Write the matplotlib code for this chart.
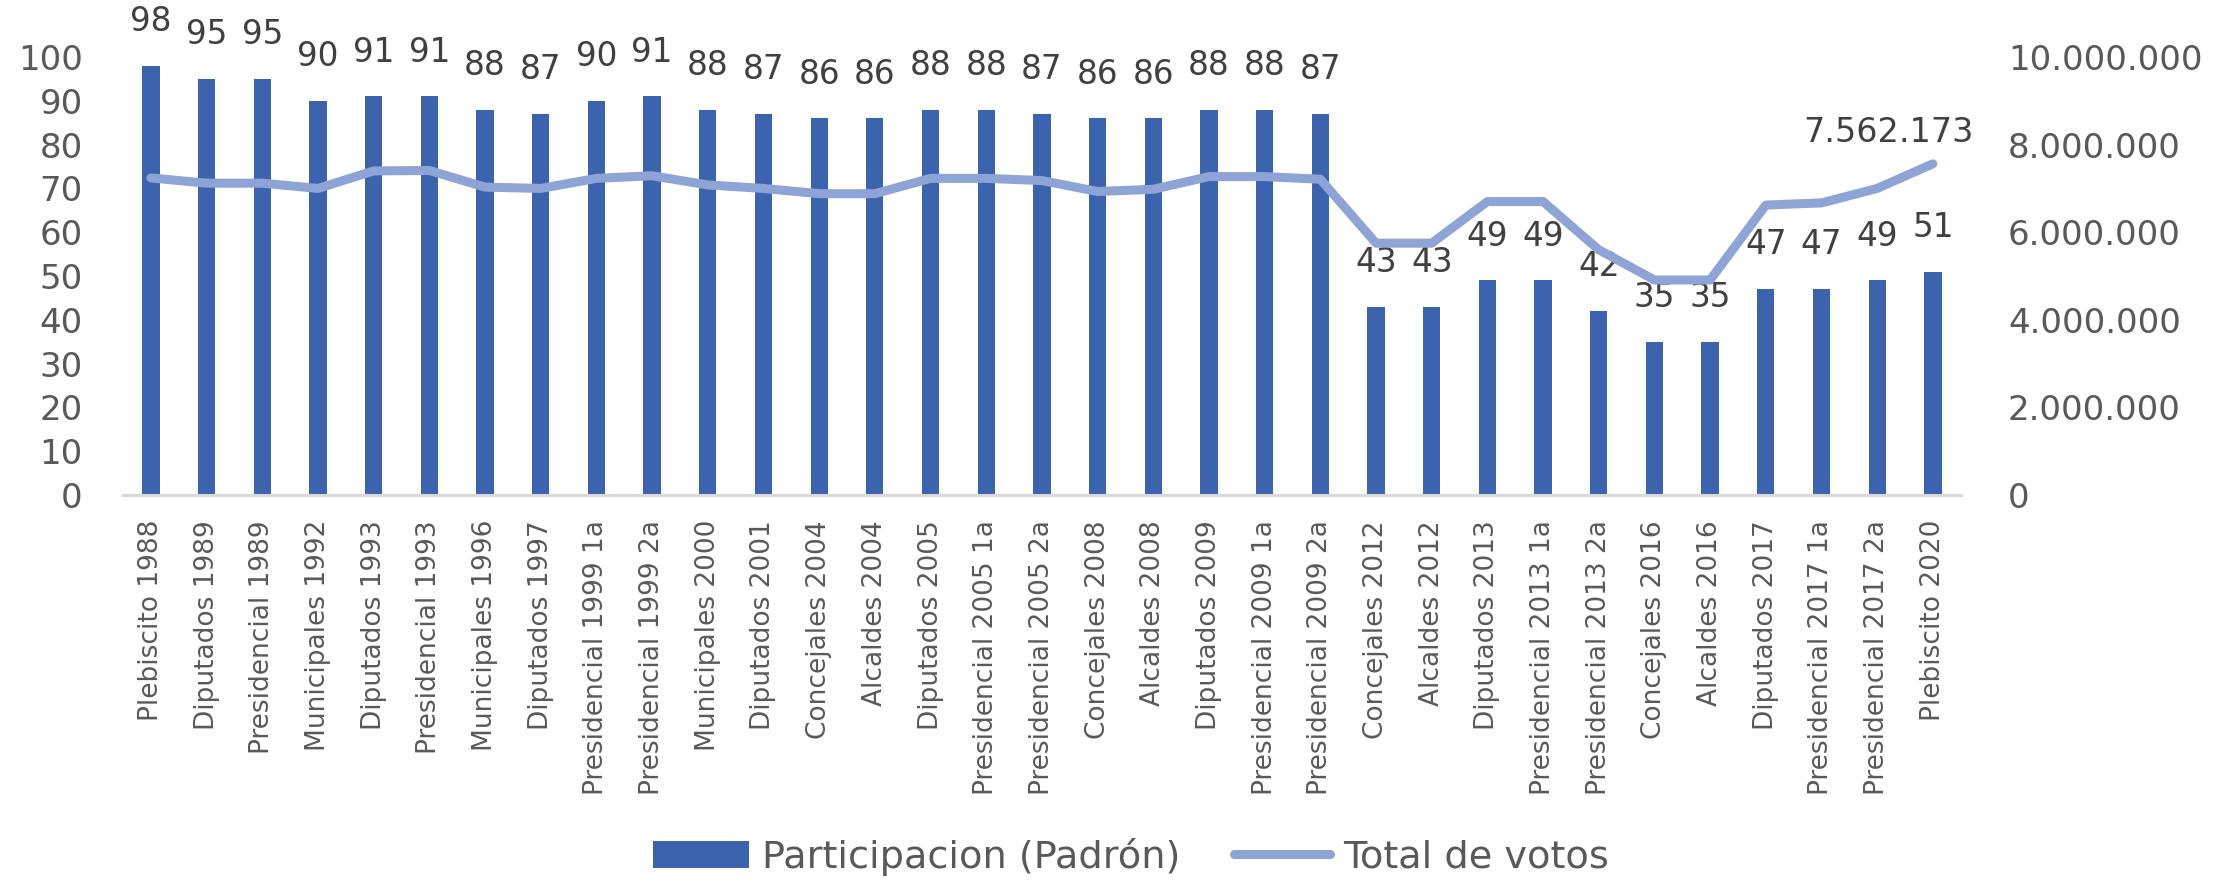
import matplotlib.pyplot as plt
from matplotlib.ticker import FuncFormatter

# -----------------------------
# Datos
# -----------------------------
elecciones = ["Plebiscito 1988", "Diputados 1989", "Presidencial 1989", "Municipales 1992",
              "Diputados 1993", "Presidencial 1993", "Municipales 1996", "Diputados 1997",
              "Presidencial 1999 1a", "Presidencial 1999 2a", "Municipales 2000", "Diputados 2001",
              "Concejales 2004", "Alcaldes 2004", "Diputados 2005", "Presidencial 2005 1a",
              "Presidencial 2005 2a", "Concejales 2008", "Alcaldes 2008", "Diputados 2009",
              "Presidencial 2009 1a", "Presidencial 2009 2a", "Concejales 2012", "Alcaldes 2012",
              "Diputados 2013", "Presidencial 2013 1a", "Presidencial 2013 2a", "Concejales 2016",
              "Alcaldes 2016", "Diputados 2017", "Presidencial 2017 1a", "Presidencial 2017 2a",
              "Plebiscito 2020"]

participacion = [98, 95, 95, 90, 91, 91, 88, 87, 90, 91, 88, 87, 86, 86, 88, 88, 87,
                 86, 86, 88, 88, 87, 43, 43, 49, 49, 42, 35, 35, 47, 47, 49, 51]

total_votos = [7240000, 7120000, 7120000, 7000000, 7400000, 7410000, 7030000, 7000000,
               7230000, 7290000, 7080000, 7000000, 6880000, 6880000, 7230000, 7230000,
               7180000, 6930000, 6980000, 7270000, 7270000, 7210000, 5750000, 5750000,
               6700000, 6700000, 5600000, 4910000, 4910000, 6620000, 6670000, 7000000,
               7562173]

color_barra = "#3C64AE"
color_linea = "#8EA3D6"
gris = "#595959"

x = list(range(len(elecciones)))

# -----------------------------
# Figura
# -----------------------------
fig = plt.figure(figsize=(22.18, 8.83), dpi=100)
ax = fig.add_axes([0.0555, 0.4394, 0.8285, 0.496])

barras = ax.bar(x, participacion, width=0.31, color=color_barra, label="Participacion (Padrón)")
ax.bar_label(barras, padding=20, fontsize=23.5, color="#404040")

ax.set_xlim(-0.5, 32.5)
ax.set_ylim(0, 100)
ax.set_yticks(range(0, 101, 10))
ax.set_xticks(x)
ax.set_xticklabels(elecciones, rotation=90, fontsize=19, color=gris)
ax.tick_params(axis="y", labelsize=24.5, labelcolor=gris, length=0, pad=29)
ax.tick_params(axis="x", length=0, pad=18)

for lado in ["top", "left", "right"]:
    ax.spines[lado].set_visible(False)
ax.spines["bottom"].set_color("#D9D9D9")
ax.spines["bottom"].set_linewidth(2.2)

# Eje secundario
ax2 = ax.twinx()
linea, = ax2.plot(x, total_votos, color=color_linea, linewidth=6.5,
                  solid_capstyle="round", solid_joinstyle="round", label="Total de votos")
ax2.set_ylim(0, 10000000)
ax2.set_yticks(range(0, 10000001, 2000000))
ax2.yaxis.set_major_formatter(FuncFormatter(lambda v, p: f"{v:,.0f}".replace(",", ".")))
ax2.tick_params(axis="y", labelsize=24.5, labelcolor=gris, length=0, pad=34)
for lado in ["top", "left", "right", "bottom"]:
    ax2.spines[lado].set_visible(False)

# Etiqueta del ultimo punto
ultimo = total_votos[-1]
ax2.annotate(f"{ultimo:,.0f}".replace(",", "."), (x[-1], ultimo),
             xytext=(-32, 11), textcoords="offset points",
             ha="center", va="bottom", fontsize=24, color="#404040")

# Leyenda
fig.legend(handles=[barras, linea], loc="center", bbox_to_anchor=(0.51, 0.03),
           ncol=2, frameon=False, fontsize=27.5, labelcolor=gris,
           handlelength=2.5, handletextpad=0.35, columnspacing=1.4)

plt.savefig("out.png", dpi=100)
